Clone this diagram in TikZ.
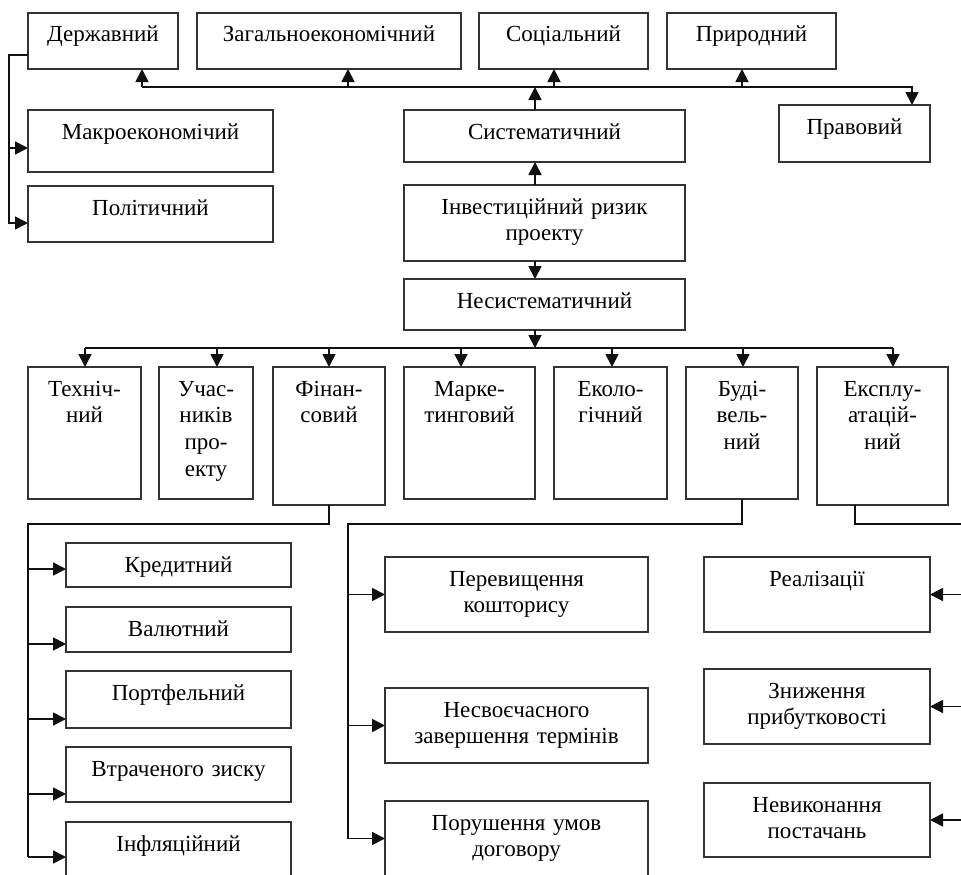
\documentclass[tikz,border=0pt]{standalone}
\usepackage{fontspec}
\setmainfont{Liberation Serif}
\usetikzlibrary{positioning,arrows.meta,calc}
\definecolor{boxStroke}{HTML}{333333}
\definecolor{lineStroke}{HTML}{111111}

\begin{document}
\begin{tikzpicture}[
  x=1pt, y=-1pt,
  font=\fontsize{23}{26.7}\selectfont,
  box/.style ={draw=boxStroke, line width=1.4pt, anchor=north west, align=center, inner sep=0pt, outer sep=0pt, text height=29pt},
  wire/.style={line width=1.8pt, lineStroke},
  arr/.style ={-{Triangle[length=13pt, width=13pt]}, line width=1.8pt, lineStroke},
]
\useasboundingbox (0,0) rectangle (961,875);
\clip (0,0) rectangle (961,875);

% ============ Systematic level ============
\node[box, text width=150pt, text depth=27pt] (dz)    at (28,13)  {Державний};
\node[box, text width=264pt, text depth=27pt] (gen)   at (197,13) {Загальноекономічний};
\node[box, text width=169pt, text depth=27pt] (soc)   at (479,13) {Соціальний};
\node[box, text width=169pt, text depth=27pt] (nat)   at (667,13) {Природний};
\node[box, text width=151pt, text depth=28pt] (law)   at (779,105) {Правовий};
\node[box, text width=245pt, text depth=33pt] (macro) at (28,110) {Макроекономічий};
\node[box, text width=245pt, text depth=27pt] (pol)   at (28,186) {Політичний};

% ============ Centre column ============
\node[box, text width=281pt, text depth=23pt] (sys)  at (404,110) {Систематичний};
\node[box, text width=281pt, text depth=47pt] (inv)  at (404,185) {Інвестиційний ризик\\проекту};
\node[box, text width=281pt, text depth=22pt] (nons) at (404,279) {Несистематичний};

% ============ Non-systematic level ============
\node[box, text width=113pt, text depth=103pt] (tech) at (28,367)  {Техніч-\\ний};
\node[box, text width=94pt,  text depth=103pt] (part) at (159,367) {Учас-\\ників\\про-\\екту};
\node[box, text width=112pt, text depth=109pt] (fin)  at (273,367) {Фінан-\\совий};
\node[box, text width=131pt, text depth=103pt] (mark) at (404,367) {Марке-\\тинговий};
\node[box, text width=113pt, text depth=103pt] (eco)  at (554,367) {Еколо-\\гічний};
\node[box, text width=112pt, text depth=103pt] (bld)  at (686,367) {Буді-\\вель-\\ний};
\node[box, text width=131pt, text depth=109pt] (exp)  at (817,367) {Експлу-\\атацій-\\ний};

% ============ Financial ============
\node[box, text width=225pt, text depth=15pt] (cred) at (66,543) {Кредитний};
\node[box, text width=225pt, text depth=16pt] (cur)  at (66,607) {Валютний};
\node[box, text width=225pt, text depth=28pt] (port) at (66,671) {Портфельний};
\node[box, text width=225pt, text depth=26pt] (lost) at (66,747) {Втраченого зиску};
\node[box, text width=225pt, text depth=41pt] (infl) at (66,822) {Інфляційний};

% ============ Construction ============
\node[box, text width=263pt, text depth=46pt] (over)   at (385,557) {Перевищення\\кошторису};
\node[box, text width=263pt, text depth=46pt] (late)   at (385,688) {Несвоєчасного\\завершення термінів};
\node[box, text width=263pt, text depth=46pt] (breach) at (385,801) {Порушення умов\\договору};

% ============ Operational ============
\node[box, text width=226pt, text depth=46pt] (real) at (704,557) {Реалізації};
\node[box, text width=226pt, text depth=46pt] (prof) at (704,669) {Зниження\\прибутковості};
\node[box, text width=226pt, text depth=45pt] (supp) at (704,783) {Невиконання\\постачань};

% ============ Top bus ============
\coordinate (tb1) at (142,87);
\coordinate (tb2) at (348,87);
\coordinate (tb3) at (554,87);
\coordinate (tb4) at (742,87);
\coordinate (tb5) at (912,87);
\coordinate (spine) at (535,0);

\draw[arr] (tb1) -- (tb5) -- (tb5 |- law.north);
\foreach \c/\n in {tb1/dz, tb2/gen, tb3/soc, tb4/nat} {
  \draw[arr] (\c) -- (\c |- \n.south);
}
\draw[arr] (spine |- sys.north) -- (spine |- tb1);
\draw[arr] (spine |- inv.north) -- (spine |- sys.south);
\draw[arr] (spine |- inv.south) -- (spine |- nons.north);

% ============ Left feeder ============
\coordinate (lf0) at (9,55);
\coordinate (lf1) at (9,148);
\coordinate (lf2) at (9,223);
\draw[arr] (lf0 -| dz.west) -- (lf0) -- (lf2) -- (lf2 -| pol.west);
\draw[arr] (lf1) -- (lf1 -| macro.west);

% ============ Middle bus ============
\coordinate (mbL) at (85,348);
\coordinate (mbR) at (893,348);
\draw[wire] (mbL) -- (mbR);
\draw[arr] (spine |- nons.south) -- (spine |- mbL);
\foreach \x/\n in {85/tech, 217/part, 329/fin, 461/mark, 612/eco, 743/bld, 893/exp} {
  \draw[arr] (\x,0 |- mbL) -- (\x,0 |- \n.north);
}

% ============ Financial branch ============
\coordinate (fl) at (28,524);
\draw[wire] (fin.south) |- (fl) -- (fl |- 0,857);
\foreach \y/\n in {569/cred, 644/cur, 719/port, 794/lost, 857/infl} {
  \draw[arr] (fl |- 0,\y) -- (\n.west |- 0,\y);
}

% ============ Construction branch ============
\coordinate (bl) at (348,524);
\draw[wire] (bld.south) |- (bl) -- (bl |- breach.west);
\foreach \n in {over, late, breach} {
  \draw[arr] (bl |- \n.west) -- (\n.west);
}

% ============ Operational branch ============
\coordinate (el) at (855,0);
\coordinate (er) at (975,524);
\draw[wire] (el |- exp.south) |- (er) -- (er |- supp.east);
\foreach \n in {real, prof, supp} {
  \draw[arr] (er |- \n.east) -- (\n.east);
}

\end{tikzpicture}
\end{document}
